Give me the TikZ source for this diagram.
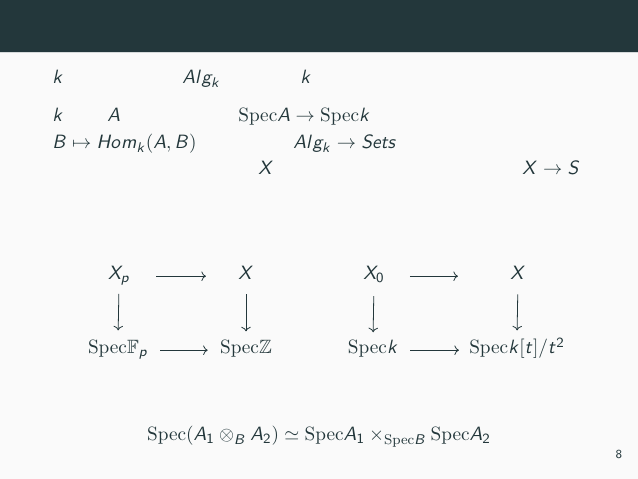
\documentclass[tikz,border=0pt]{standalone}
\usepackage{amsmath,amssymb}
\usepackage{xcolor}
\usepackage{tikz}
\usetikzlibrary{arrows.meta,positioning,calc}
\DeclareMathAlphabet{\mathsfit}{OT1}{cmss}{m}{sl}
\DeclareMathAlphabet{\mathsfup}{OT1}{cmss}{m}{n}
\newcommand{\sfi}[1]{\mathsfit{#1}}
\newcommand{\Spec}{\mathrm{Spec}}
\definecolor{ink}{HTML}{23373B}
\definecolor{headbar}{HTML}{23373B}
\definecolor{slidebg}{HTML}{FAFAFA}
\definecolor{rule}{HTML}{D6DADB}
\tikzset{
  every node/.style={font=\fontsize{10.95}{13}\selectfont,text=ink,inner sep=0pt},
  line/.style={anchor=base west},
  term/.style={anchor=base},
  cd/.style={->,draw=ink,line width=0.45pt},
  pagenum/.style={anchor=base,font=\fontsize{7}{8}\selectfont\sffamily}
}
\begin{document}
\begin{tikzpicture}[x=0.2mm,y=-0.2mm]
  \useasboundingbox (0,0) rectangle (638,479);
  \fill[slidebg] (0,0) rectangle (638,479);
  \fill[headbar] (0,0) rectangle (638,52);
  \draw[rule,line width=0.5pt] (0,52.6) -- (638,52.6);

  % text lines
  \node[line] (k1) at (52,84) {$\sfi{k}$};
  \node[line] (alg1) at (182,84) {$\sfi{Al}\sfi{g}_{\sfi{k}}$};
  \node[line] (k2) at (300,84) {$\sfi{k}$};

  \node[line] (k3) at (52,122) {$\sfi{k}$};
  \node[line] (a1) at (107,122) {$\sfi{A}$};
  \node[line] (spa) at (238,122) {$\Spec\sfi{A}\to\Spec\sfi{k}$};

  \node[line] (hom) at (52,149) {$\sfi{B}\mapsto\sfi{Ho}\sfi{m}_{\sfi{k}}(\sfi{A},\sfi{B})$};
  \node[line] (fun) at (293,149) {$\sfi{Al}\sfi{g}_{\sfi{k}}\to\sfi{Sets}$};

  \node[line] (x1) at (258,175) {$\sfi{X}$};
  \node[line] (xs) at (522,175) {$\sfi{X}\to\sfi{S}$};

  % first square
  \node[term] (xp) at (119,280) {$\sfi{X}_{\sfi{p}}$};
  \node[term] (xa) at (246,280) {$\sfi{X}$};
  \node[term] (sf) at (118,354) {$\Spec\mathbb{F}_{\sfi{p}}$};
  \node[term] (sz) at (246,354) {$\Spec\mathbb{Z}$};
  \draw[cd,shorten <=5.2mm,shorten >=6.4mm] (xp.mid east) -- (xa.mid west);
  \draw[cd,shorten <=2.4mm,shorten >=2.4mm] (sf.mid east) -- (sz.mid west);
  \draw[cd,shorten <=1.6mm,shorten >=2mm] (xp.south) -- (sf.north);
  \draw[cd,shorten <=2.8mm,shorten >=1.8mm] (xa.south) -- (sz.north);

  % second square
  \node[term] (x0) at (374,280) {$\sfi{X}_{\mathsfup{0}}$};
  \node[term] (xb) at (518,280) {$\sfi{X}$};
  \node[term] (sk) at (373,354) {$\Spec\sfi{k}$};
  \node[term] (sd) at (517,354) {$\Spec\sfi{k}[\sfi{t}]/\sfi{t}^{\mathsfup{2}}$};
  \draw[cd,shorten <=5mm,shorten >=10.4mm] (x0.mid east) -- (xb.mid west);
  \draw[cd,shorten <=2.4mm,shorten >=2mm] (sk.mid east) -- (sd.mid west);
  \draw[cd,shorten <=2.6mm,shorten >=1.6mm] (x0.south) -- (sk.north);
  \draw[cd,shorten <=2.8mm,shorten >=1.4mm] (xb.south) -- (sd.north);

  % fibre product
  \node[term] (prod) at (319,441) {$\Spec(\sfi{A}_{\mathsfup{1}}\otimes_{\sfi{B}}\sfi{A}_{\mathsfup{2}})\simeq\Spec\sfi{A}_{\mathsfup{1}}\times_{\Spec\sfi{B}}\Spec\sfi{A}_{\mathsfup{2}}$};

  \node[pagenum] (page) at (619,459) {8};
\end{tikzpicture}
\end{document}
